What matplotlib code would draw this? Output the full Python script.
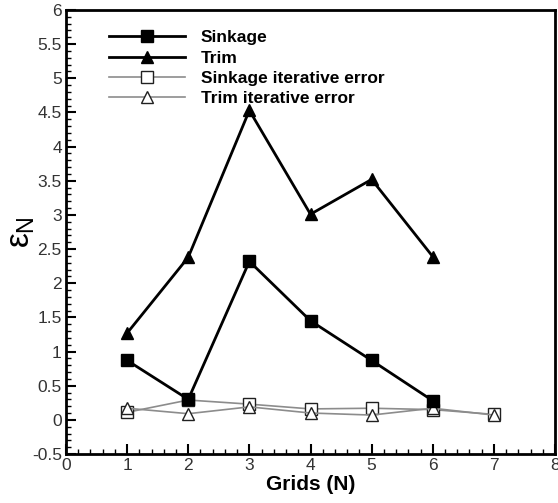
import matplotlib
matplotlib.use("Agg")
import matplotlib.pyplot as plt
from matplotlib.ticker import MultipleLocator

plt.rcParams['font.family'] = ['Liberation Sans', 'DejaVu Sans']
plt.rcParams['mathtext.fontset'] = 'custom'
plt.rcParams['mathtext.rm'] = 'Liberation Sans'
plt.rcParams['mathtext.it'] = 'Liberation Sans'

grids = [1, 2, 3, 4, 5, 6]
grids_iter = [1, 2, 3, 4, 5, 6, 7]
sinkage = [0.87, 0.30, 2.32, 1.45, 0.87, 0.28]
trim = [1.27, 2.38, 4.53, 3.01, 3.52, 2.39]
sinkage_iter = [0.11, 0.29, 0.23, 0.16, 0.17, 0.15, 0.08]
trim_iter = [0.17, 0.09, 0.19, 0.10, 0.07, 0.17, 0.07]

fig = plt.figure(figsize=(5.58, 5.03), dpi=100)
ax = fig.add_axes([66/558, 1 - 454/503, (555 - 66)/558, (454 - 10)/503])

ax.plot(grids, sinkage, color='black', lw=2, marker='s', ms=9,
        mfc='black', mec='black', label='Sinkage', zorder=4)
ax.plot(grids, trim, color='black', lw=2, marker='^', ms=9,
        mfc='black', mec='black', label='Trim', zorder=4)
ax.plot(grids_iter, sinkage_iter, color='#8c8c8c', lw=1.2, marker='s', ms=9,
        mfc='white', mec='#202020', mew=1.0, label='Sinkage iterative error', zorder=3)
ax.plot(grids_iter, trim_iter, color='#8c8c8c', lw=1.2, marker='^', ms=9,
        mfc='white', mec='#202020', mew=1.0, label='Trim iterative error', zorder=3)

ax.set_xlim(0, 8)
ax.set_ylim(-0.5, 6)
ax.xaxis.set_major_locator(MultipleLocator(1))
ax.xaxis.set_minor_locator(MultipleLocator(0.2))
ax.yaxis.set_minor_locator(MultipleLocator(0.1))
ax.set_yticks([-0.5, 0, 0.5, 1, 1.5, 2, 2.5, 3, 3.5, 4, 4.5, 5, 5.5, 6])
ax.set_yticklabels(['-0.5', '0', '0.5', '1', '1.5', '2', '2.5', '3', '3.5',
                    '4', '4.5', '5', '5.5', '6'])
ax.tick_params(which='major', direction='in', length=7, width=1.5,
               labelsize=12.5, top=False, right=False, pad=3, labelcolor='#333333')
ax.tick_params(which='minor', direction='in', length=3.5, width=1,
               top=False, right=False)
for s in ax.spines.values():
    s.set_linewidth(2)

ax.set_xlabel('Grids (N)', fontsize=15, fontweight='bold', labelpad=1)
ax.set_ylabel(r'$\epsilon_{\mathrm{N}}$', fontsize=24, labelpad=-4)

leg = ax.legend(loc='upper left', bbox_to_anchor=(0.055, 0.99), frameon=False,
                handlelength=4.4, handletextpad=0.9, labelspacing=0.3,
                prop={'weight': 'bold', 'size': 12.5})

fig.savefig('out.png', dpi=100)
